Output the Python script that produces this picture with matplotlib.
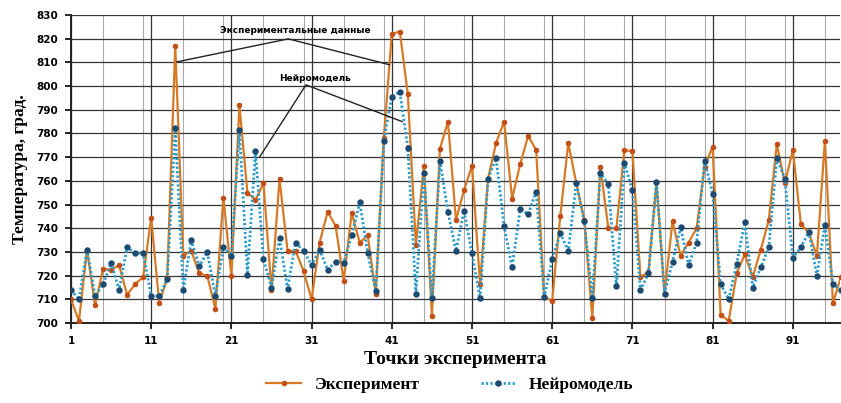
import numpy as np
import matplotlib.pyplot as plt
from matplotlib.ticker import MultipleLocator

# Данные (точки эксперимента 1..97)
tochki = np.arange(1, 98)

eksperiment = [710, 701, 731, 707.5, 723, 722.5, 724.5, 712, 716.5, 719.5,
               744.5, 708.5, 719, 817, 728.5, 730.5, 721, 720, 706, 753,
               720, 792, 755, 752, 759, 714, 761, 730.5, 730.5, 722,
               710, 734, 747, 741, 718, 746.5, 734, 737, 712.5, 778,
               822, 823, 796.5, 733, 766.5, 703, 773.5, 785, 743.5, 756,
               766.5, 716.5, 761, 776, 785, 752.5, 767, 779, 773, 711,
               709.5, 745, 776, 759, 743.5, 702, 766, 740, 740, 773,
               772.5, 719.5, 721.5, 759.5, 712.5, 743, 728.5, 734, 740, 766,
               774.5, 703.5, 701, 721, 729, 719.5, 731, 743.5, 775.5, 759,
               773, 742, 738, 728.5, 777, 708.5, 719.5]

neiromodel = [714, 710, 731, 711.5, 716.5, 725.5, 714, 732, 729.5, 729.5,
              711.5, 711.5, 718.5, 782.5, 714, 735, 724, 730, 711.5, 732,
              728.5, 781.5, 720.5, 772.5, 727, 715, 736, 714.5, 734, 730.5,
              724.5, 731, 722.5, 726, 725.5, 737, 751, 729.5, 713.5, 777,
              795.5, 797.5, 774, 712.5, 763.5, 710.5, 768.5, 747, 730.5, 747.5,
              729.5, 710.5, 761, 769.5, 741, 723.5, 748, 746, 755.5, 711,
              727, 738, 730.5, 759, 743, 710.5, 763.5, 758.5, 715.5, 767.5,
              756, 714, 721, 759.5, 712.5, 726, 740.5, 724.5, 734, 768.5,
              754.5, 716.5, 710, 725, 742.5, 715, 723.5, 732, 769.5, 761,
              727.5, 732, 738.5, 720, 741.5, 716.5, 714]

# Цвета линий
c_exp_line = "#d67a26"
c_exp_mark = "#c24f17"
c_nn_line = "#2a9ccc"
c_nn_mark = "#1d4a70"

serif = "Liberation Serif"

fig = plt.figure(figsize=(8.41, 4.03), dpi=100)
ax = fig.add_axes([0.0844, 0.198, 0.9146, 0.765])

ax.plot(tochki, eksperiment, "-", color=c_exp_line, lw=1.6, marker="o", ms=3,
        mfc=c_exp_mark, mec=c_exp_mark, label="Эксперимент", zorder=3)
ax.plot(tochki, neiromodel, linestyle=(0, (0.8, 0.8)), color=c_nn_line, lw=2.0,
        marker="o", ms=3.6, mfc=c_nn_mark, mec=c_nn_mark, label="Нейромодель",
        zorder=4)

ax.set_xlim(1, 96.9)
ax.set_ylim(700, 830)
ax.set_xticks(np.arange(1, 97, 10))
ax.xaxis.set_minor_locator(MultipleLocator(5))
ax.set_yticks(np.arange(700, 831, 10))

# Сетка
ax.grid(which="major", color="#333333", lw=0.9)
ax.grid(which="minor", axis="x", color="#aaaaaa", lw=0.8)
ax.set_axisbelow(True)
for s in ["top", "right"]:
    ax.spines[s].set_visible(False)
ax.spines["left"].set_color("#222222")
ax.spines["bottom"].set_color("#222222")
ax.spines["left"].set_linewidth(1.4)
ax.spines["bottom"].set_linewidth(1.4)
ax.tick_params(which="both", length=4, width=1.2, pad=5)
ax.tick_params(which="minor", length=0)

for lab in ax.get_xticklabels() + ax.get_yticklabels():
    lab.set_fontsize(7.5)
    lab.set_fontweight("bold")

ax.set_xlabel("Точки эксперимента", fontsize=14, fontweight="bold",
              family=serif, labelpad=4)
ax.set_ylabel("Температура, град.", fontsize=12.5, fontweight="bold",
              family=serif, labelpad=6)

# Подписи со стрелками
ax.text(29, 823.3, "Экспериментальные данные", fontsize=6.5, fontweight="bold",
        ha="center", va="center", zorder=6)
ax.plot([14.2, 28.1, 40.7], [810.2, 819.9, 809], color="#222222", lw=1.0, zorder=5)
ax.text(31.4, 803.2, "Нейромодель", fontsize=6.5, fontweight="bold",
        ha="center", va="center", zorder=6)
ax.plot([24.5, 30.3, 42.3], [770, 800.5, 785], color="#222222", lw=1.0, zorder=5)

fig.legend(loc="lower center", bbox_to_anchor=(0.535, -0.015), ncol=2,
           frameon=False, columnspacing=3.5, handlelength=2.0,
           prop={"family": serif, "weight": "bold", "size": 12.5})

fig.savefig("out.png", dpi=100)
